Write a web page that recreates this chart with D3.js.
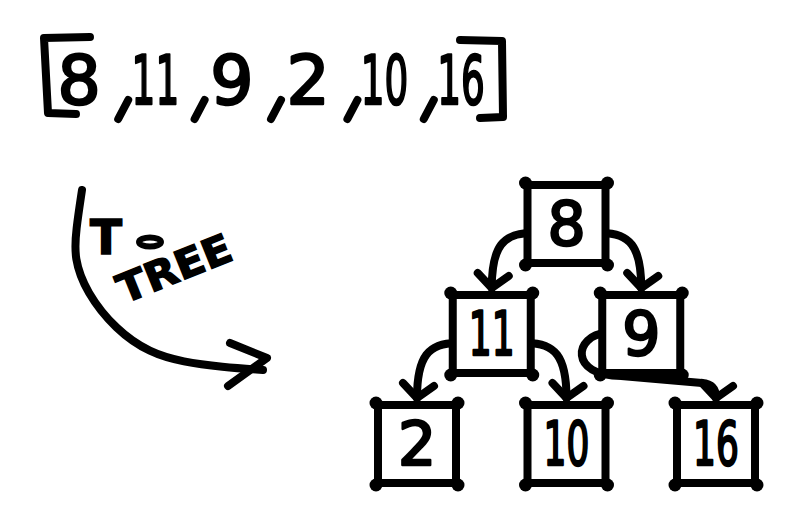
<!DOCTYPE html>
<html>
<head>
    <title>Array to tree sketch</title>
    <script src="https://d3js.org/d3.v7.min.js"></script>
    <style>
        body { margin: 0; background: #fff; }
    </style>
</head>
<body>
    <svg width="793" height="524"></svg>
    <script>
        // the array as written on top
        var arrayValues = [8, 11, 9, 2, 10, 16];

        // the tree: value, depth, horizontal slot, parent index, side the arrow leaves from
        var nodeValues = [8, 11, 9, 2, 10, 16];
        var nodeDepth = [0, 1, 1, 2, 2, 2];
        var nodeSlot = [1, 0.5, 1.5, 0, 1, 2];
        var nodeParent = [-1, 0, 0, 1, 1, 2];
        var linkSide = [0, -1, 1, -1, 1, -1];

        var arrowLabel = ["TO", "TREE"];

        var svg = d3.select("svg");
        var ink = "#000";
        var font = "DejaVu Sans";

        // squeeze two-digit numbers so they fit like the handwriting
        function squeeze(v) { return String(v).length > 1 ? 0.55 : 1; }

        // ---- array row ----
        var arrayX = d3.scalePoint().domain(d3.range(arrayValues.length)).range([79, 461]);
        var arrayBase = 104;

        var rowG = svg.append("g");
        rowG.selectAll("text.val")
            .data(arrayValues)
            .enter().append("text")
            .attr("class", "val")
            .attr("transform", function (d, i) {
                return "translate(" + arrayX(i) + "," + arrayBase + ") scale(" + squeeze(d) + ",1)";
            })
            .attr("text-anchor", "middle")
            .attr("font-family", font)
            .attr("font-size", 68)
            .attr("fill", ink)
            .attr("stroke", ink)
            .attr("stroke-width", 2.5)
            .attr("stroke-linejoin", "round")
            .text(function (d) { return d; });

        // commas between the values
        var step = arrayX.step();
        rowG.selectAll("path.comma")
            .data(arrayValues.slice(1))
            .enter().append("path")
            .attr("class", "comma")
            .attr("d", function (d, i) {
                var cx = arrayX(i) + step / 2 + 6;
                return "M" + (cx + 5) + "," + (arrayBase - 4) + " L" + (cx - 5) + "," + (arrayBase + 15);
            })
            .attr("stroke", ink)
            .attr("stroke-width", 8)
            .attr("stroke-linecap", "round")
            .attr("fill", "none");

        // brackets
        var lx = arrayX(0) - 35, rx = arrayX(arrayValues.length - 1) + 41;
        rowG.append("path")
            .attr("d", "M" + (lx + 46) + ",37 L" + lx + ",38 L" + (lx + 4) + ",113 L" + (lx + 32) + ",114")
            .attr("stroke", ink).attr("stroke-width", 8).attr("fill", "none")
            .attr("stroke-linecap", "round").attr("stroke-linejoin", "round");
        rowG.append("path")
            .attr("d", "M" + (rx - 42) + ",40 L" + rx + ",41 L" + (rx + 1) + ",117 L" + (rx - 22) + ",118")
            .attr("stroke", ink).attr("stroke-width", 8).attr("fill", "none")
            .attr("stroke-linecap", "round").attr("stroke-linejoin", "round");

        // ---- tree ----
        var xTree = d3.scaleLinear().domain([0, 2]).range([417, 716]);
        var yTree = d3.scaleLinear().domain([0, 2]).range([224, 444]);
        var half = 39;

        var nodes = nodeValues.map(function (v, i) {
            return { value: v, x: xTree(nodeSlot[i]), y: yTree(nodeDepth[i]), parent: nodeParent[i], side: linkSide[i] };
        });

        var treeG = svg.append("g");

        // arrows
        var links = nodes.filter(function (d) { return d.parent >= 0; });
        function linkPath(c) {
            var p = nodes[c.parent];
            var sx = p.x + c.side * half - c.side * 4, sy = p.y + 9;
            var ex = c.x, ey = c.y - half - 7;
            var goesRight = c.x > p.x;
            if ((c.side > 0) === goesRight) {
                return "M" + sx + "," + sy +
                    " C" + (sx + c.side * 28) + "," + sy + " " + ex + "," + (ey - 42) + " " + ex + "," + ey;
            }
            // loop back under the parent box
            var loopX = p.x - half - 28, by = p.y + half + 3;
            return "M" + sx + "," + (sy - 10) +
                " C" + loopX + "," + (sy - 8) + " " + (loopX - 6) + "," + by + " " + (p.x - 20) + "," + by +
                " L" + (ex - 14) + "," + (by + 7) +
                " Q" + ex + "," + (by + 8) + " " + ex + "," + ey;
        }
        treeG.selectAll("path.link")
            .data(links)
            .enter().append("path")
            .attr("class", "link")
            .attr("d", linkPath)
            .attr("stroke", ink).attr("stroke-width", 8).attr("fill", "none")
            .attr("stroke-linecap", "round").attr("stroke-linejoin", "round");

        treeG.selectAll("path.head")
            .data(links)
            .enter().append("path")
            .attr("class", "head")
            .attr("d", function (c) {
                var ex = c.x, ey = c.y - half - 7;
                return "M" + (ex - 14) + "," + (ey - 15) + " L" + ex + "," + ey + " L" + (ex + 17) + "," + (ey - 12);
            })
            .attr("stroke", ink).attr("stroke-width", 8).attr("fill", "none")
            .attr("stroke-linecap", "round").attr("stroke-linejoin", "round");

        // boxes
        var box = treeG.selectAll("g.node")
            .data(nodes)
            .enter().append("g")
            .attr("class", "node")
            .attr("transform", function (d) { return "translate(" + d.x + "," + d.y + ")"; });

        box.append("rect")
            .attr("x", -half).attr("y", -half)
            .attr("width", half * 2).attr("height", half * 2)
            .attr("fill", "#fff")
            .attr("stroke", ink).attr("stroke-width", 8);

        var corners = [[-1, -1], [1, -1], [-1, 1], [1, 1]];
        box.selectAll("circle")
            .data(corners)
            .enter().append("circle")
            .attr("cx", function (c) { return c[0] * (half + 2); })
            .attr("cy", function (c) { return c[1] * (half + 2); })
            .attr("r", 6.5)
            .attr("fill", ink);

        box.append("text")
            .attr("transform", function (d) { return "translate(0,21) scale(" + (squeeze(d.value) === 1 ? 1 : 0.6) + ",1)"; })
            .attr("text-anchor", "middle")
            .attr("font-family", font)
            .attr("font-size", 60)
            .attr("fill", ink)
            .attr("stroke", ink)
            .attr("stroke-width", 2.5)
            .attr("stroke-linejoin", "round")
            .text(function (d) { return d.value; });

        // ---- the "to tree" arrow ----
        var ax = arrayX(0) + 3, ay = 190;
        var arcPts = [[0, 0], [-6, 40], [-8, 68], [4, 102], [34, 140], [68, 163], [101, 172], [140, 177], [181, 180]];
        svg.append("path")
            .attr("d", d3.line().curve(d3.curveBasis)(arcPts.map(function (p) { return [ax + p[0], ay + p[1]]; })))
            .attr("stroke", ink).attr("stroke-width", 8).attr("fill", "none")
            .attr("stroke-linecap", "round");
        svg.append("path")
            .attr("d", "M" + (ax + 148) + "," + (ay + 153) + " L" + (ax + 185) + "," + (ay + 168) + " L" + (ax + 146) + "," + (ay + 196))
            .attr("stroke", ink).attr("stroke-width", 8).attr("fill", "none")
            .attr("stroke-linecap", "round").attr("stroke-linejoin", "round");

        var lbl = svg.append("g");
        lbl.append("text")
            .attr("x", ax + 8).attr("y", ay + 64)
            .attr("font-family", font).attr("font-size", 48).attr("font-weight", "bold")
            .attr("fill", ink).attr("stroke", ink).attr("stroke-width", 1.5)
            .attr("textLength", 32).attr("lengthAdjust", "spacingAndGlyphs")
            .text(arrowLabel[0].charAt(0));
        lbl.append("ellipse")
            .attr("cx", ax + 68).attr("cy", ay + 52)
            .attr("rx", 11).attr("ry", 4.5)
            .attr("fill", "none").attr("stroke", ink).attr("stroke-width", 6);
        lbl.append("text")
            .attr("transform", "translate(" + (ax + 42) + "," + (ay + 114) + ") rotate(-22)")
            .attr("font-family", font).attr("font-size", 40).attr("font-weight", "bold")
            .attr("fill", ink).attr("stroke", ink).attr("stroke-width", 1.5)
            .attr("textLength", 120).attr("lengthAdjust", "spacingAndGlyphs")
            .text(arrowLabel[1]);
    </script>
</body>
</html>
